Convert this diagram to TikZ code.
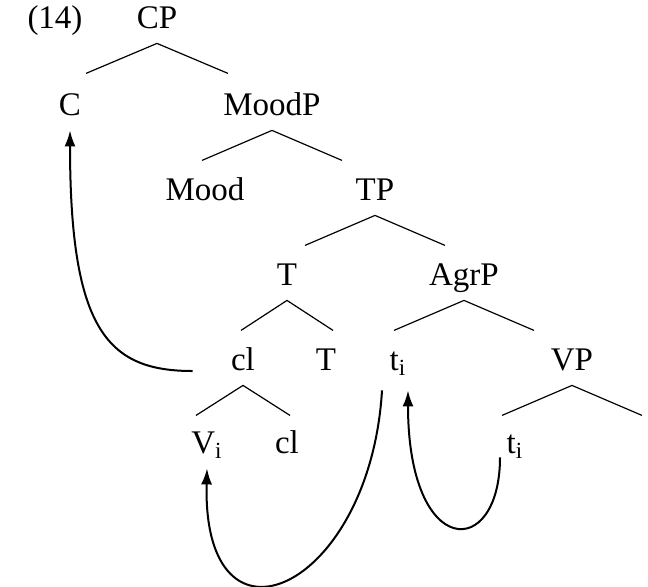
\documentclass[tikz,border=0pt]{standalone}
\usepackage{fontspec}
\setmainfont{Liberation Serif}
\usetikzlibrary{arrows.meta}

\tikzset{
    cat/.style={inner sep=0pt, text height=12pt, text depth=2pt, minimum height=25pt,
        font=\fontsize{16.5}{19}\selectfont},
    branch/.style={line width=0.6pt},
    move/.style={line width=1pt, -{Latex[length=8pt,width=5.5pt]}}
}

\begin{document}
\begin{tikzpicture}[x=0.5pt, y=-0.5pt]
    \useasboundingbox (0,0) rectangle (648,586);

    \node[cat] (ex) at (55,18) {(14)};
    \node[cat] (cp) at (157,18) {CP};
    \node[cat] (c) at (70,105) {C};
    \node[cat] (moodp) at (272,105) {MoodP};
    \node[cat] (mood) at (205,190) {Mood};
    \node[cat] (tp) at (375,190) {TP};
    \node[cat] (t) at (287,275) {T};
    \node[cat] (agrp) at (464,275) {AgrP};
    \node[cat] (cl) at (243,360) {cl};
    \node[cat] (thead) at (326,360) {T};
    \node[cat] (ti) at (398,360) {t\textsubscript{i}};
    \node[cat] (vp) at (572,360) {VP};
    \node[cat] (vi) at (207,443) {V\textsubscript{i}};
    \node[cat] (clb) at (287,443) {cl};
    \node[cat] (tib) at (515,443) {t\textsubscript{i}};

    % branches
    \foreach \p/\w in {cp/71, moodp/70, tp/70, t/46, agrp/70, cl/47, vp/70}{
        \coordinate (\p-l) at ([shift={(-\w,30)}]\p.south);
        \coordinate (\p-r) at ([shift={(\w,30)}]\p.south);
        \draw[branch] (\p-l) -- (\p.south) -- (\p-r);
    }

    % movement
    \draw[move] ([shift={(-38,11)}]cl.west) .. controls +(-85,0) and +(0,200) .. (c.south);
    \draw[move] ([shift={(-16,5)}]ti.south) .. controls +(-12,200) and +(-5,197) .. (vi.south);
    \draw[move] ([shift={(-15,-11)}]tib.south) .. controls +(0,103) and +(0,170) .. ([shift={(10,5)}]ti.south);
\end{tikzpicture}
\end{document}
